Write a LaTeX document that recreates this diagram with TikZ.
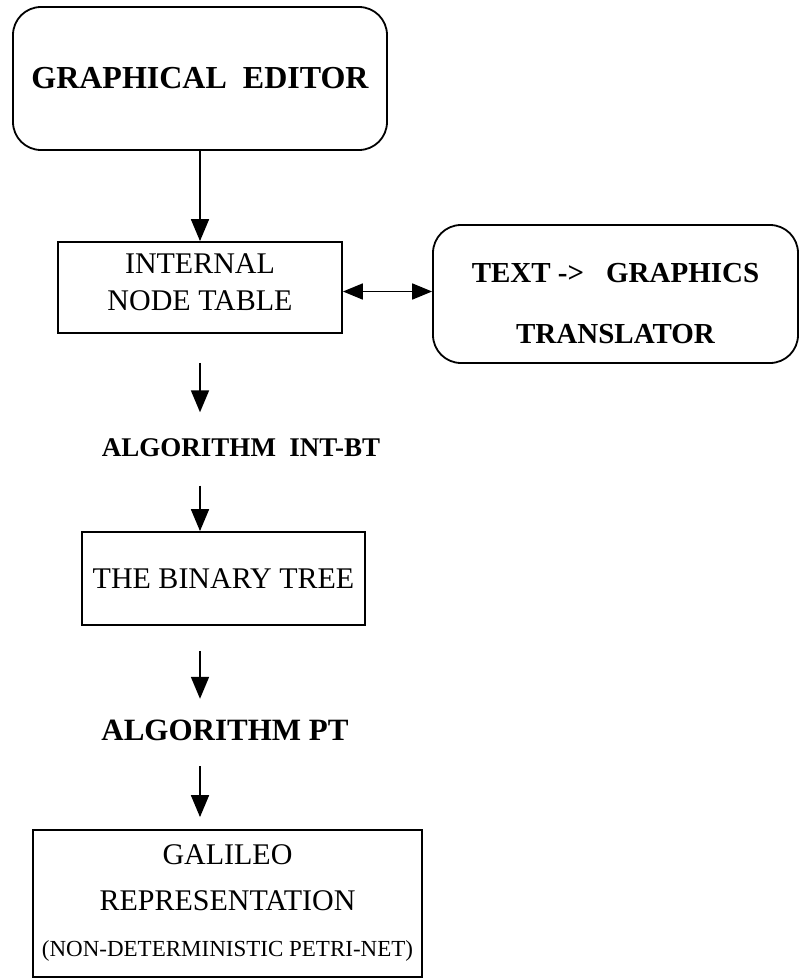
\documentclass[tikz,border=0pt]{standalone}
\usepackage{fontspec}
\setmainfont{Liberation Serif}
\usetikzlibrary{arrows.meta}

\begin{document}
\begin{tikzpicture}[x=1pt,y=-1pt]
    \tikzstyle{arrow} = [line width=1.8pt,-{Triangle[length=22pt,width=18pt]}]
    \tikzstyle{twoway} = [line width=1.8pt,{Triangle[length=20pt,width=16pt]}-{Triangle[length=20pt,width=16pt]}]
    \tikzstyle{box} = [draw,line width=1.8pt,align=center,inner sep=0pt]
    \tikzstyle{roundbox} = [box,rounded corners=28pt]
    \tikzstyle{algtext} = [inner sep=0pt,text depth=0pt]
    \useasboundingbox (0,0) rectangle (800,980);

    % boxes and steps
    \node[roundbox,minimum width=374pt,minimum height=143pt,font=\bfseries\fontsize{32}{37}\selectfont] (editor) at (200,78.5) {GRAPHICAL\ \ EDITOR};
    \node[box,minimum width=284pt,minimum height=91pt,font=\fontsize{30}{37}\selectfont] (inttable) at (200,287.5) {INTERNAL\\NODE TABLE\rule[-10pt]{0pt}{10pt}};
    \node[roundbox,minimum width=365pt,minimum height=138pt,font=\bfseries\fontsize{29}{61}\selectfont] (translator) at (615.5,294)
        {\rule{0pt}{39pt}TEXT ->\hspace{22pt}GRAPHICS\\TRANSLATOR};
    \node[algtext,text height=19pt,font=\bfseries\fontsize{27}{32}\selectfont] (intbt) at (241,447) {ALGORITHM\ \ INT-BT};
    \node[box,minimum width=283pt,minimum height=93pt,font=\fontsize{30}{37}\selectfont] (tree) at (223.5,578.5) {THE BINARY TREE};
    \node[algtext,text height=20pt,font=\bfseries\fontsize{31}{37}\selectfont] (pt) at (225,730) {ALGORITHM PT};
    \node[box,minimum width=389pt,minimum height=147pt,font=\fontsize{30}{46}\selectfont] (galileo) at (227.5,903.5)
        {GALILEO\\REPRESENTATION\\{\fontsize{23}{46}\selectfont (NON-DETERMINISTIC PETRI-NET)}\rule[-6pt]{0pt}{6pt}};

    % flow
    \draw[arrow] (editor.south) -- (inttable.north);
    \draw[twoway] ([yshift=-4pt]inttable.east) -- ([yshift=-4pt]inttable.east -| translator.west);
    \draw[arrow, shorten <=29pt, shorten >=25pt] (inttable.south) -- (inttable.south |- intbt.north);
    \draw[arrow, shorten <=29pt] (intbt.south -| inttable.south) -- (tree.north -| inttable.south);
    \draw[arrow, shorten <=25pt, shorten >=21pt] (tree.south -| inttable.south) -- (inttable.south |- pt.north);
    \draw[arrow, shorten <=26pt, shorten >=12pt] (pt.south -| inttable.south) -- (galileo.north -| inttable.south);
\end{tikzpicture}
\end{document}
